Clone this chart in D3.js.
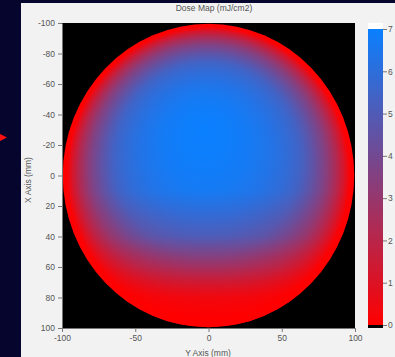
<!DOCTYPE html>
<html>
<head>
    <meta charset="utf-8">
    <title>Dose Map</title>
    <script src="https://d3js.org/d3.v7.min.js"></script>
    <style>
        body { margin: 0; background: #06052e; }
        text { font-family: 'Liberation Sans', Arial, sans-serif; fill: #555; }
    </style>
</head>
<body>
    <svg id="dose-map" width="395" height="357"></svg>

    <script>
        // axis ticks (mm)
        var xTicks = [-100, -50, 0, 50, 100];
        var yTicks = [-100, -80, -60, -40, -20, 0, 20, 40, 60, 80, 100];
        var doseTicks = [0, 1, 2, 3, 4, 5, 6, 7];

        // wafer disc (mm)
        var waferCenter = [0, 0];
        var waferRadius = 99.5;
        // hot spot of the dose field (mm)
        var hotSpot = [-3, -30];

        // radial dose profile: fraction of the way from hot spot to edge, dose (mJ/cm2)
        var profilePos  = [0,   0.15, 0.3, 0.45, 0.55, 0.64, 0.72, 0.81, 0.88, 0.93, 0.97, 1];
        var profileDose = [7,   6.9,  6.7, 6.3,  5.9,  5.4,  4.6,  3.5,  2.3,  1.2,  0.1,  0];

        // extra fall-off towards the bottom of the wafer: position (mm), red share
        var fallPos   = [10, 40, 60, 80, 100];
        var fallShare = [0, 0.15, 0.45, 0.85, 1];

        var svg = d3.select("#dose-map");
        var pLeft = 62, pRight = 355, pTop = 23, pBottom = 328;
        var plain = function(d) { return String(d); };

        // panel
        svg.append("rect").attr("x", 21).attr("y", 3).attr("width", 374).attr("height", 354).attr("fill", "#f2f2f2");
        // little red pointer on the slide
        svg.append("path").attr("d", "M0,134 L7,137.5 L0,141 Z").attr("fill", "#ff1010");

        var x = d3.scaleLinear().domain([-100, 100]).range([pLeft, pRight]);
        var y = d3.scaleLinear().domain([-100, 100]).range([pTop, pBottom]);
        var dose = d3.scaleLinear().domain([0, 7]).range([325, 29]);
        var color = d3.scaleLinear().domain([0, 7]).range(["#ff0000", "#0a80ff"]).interpolate(d3.interpolateRgb);

        var defs = svg.append("defs");

        // radial gradient of the dose profile
        var rx = x(waferRadius) - x(0), ry = y(waferRadius) - y(0);
        var radial = defs.append("radialGradient").attr("id", "doseGrad")
            .attr("cx", 0.5).attr("cy", 0.5).attr("r", 0.5)
            .attr("fx", (x(hotSpot[0]) - (x(waferCenter[0]) - rx)) / (2 * rx))
            .attr("fy", (y(hotSpot[1]) - (y(waferCenter[1]) - ry)) / (2 * ry));
        radial.selectAll("stop").data(profilePos).enter().append("stop")
            .attr("offset", function(d) { return d; })
            .attr("stop-color", function(d, i) { return color(profileDose[i]); });

        var fall = defs.append("linearGradient").attr("id", "fallGrad")
            .attr("gradientUnits", "userSpaceOnUse")
            .attr("x1", 0).attr("x2", 0).attr("y1", y(0)).attr("y2", y(100));
        fall.selectAll("stop").data(fallPos).enter().append("stop")
            .attr("offset", function(d) { return d / 100; })
            .attr("stop-color", "#ff0000")
            .attr("stop-opacity", function(d, i) { return fallShare[i]; });

        var cbGrad = defs.append("linearGradient").attr("id", "cbGrad")
            .attr("gradientUnits", "userSpaceOnUse")
            .attr("x1", 0).attr("x2", 0).attr("y1", dose(0)).attr("y2", dose(7));
        cbGrad.selectAll("stop").data(doseTicks).enter().append("stop")
            .attr("offset", function(d) { return d / 7; })
            .attr("stop-color", function(d) { return color(d); });

        defs.append("clipPath").attr("id", "plotClip").append("rect")
            .attr("x", pLeft).attr("y", pTop).attr("width", pRight - pLeft).attr("height", pBottom - pTop);

        // plot background
        svg.append("rect").attr("x", pLeft).attr("y", pTop).attr("width", pRight - pLeft).attr("height", pBottom - pTop).attr("fill", "#000");

        var g = svg.append("g").attr("clip-path", "url(#plotClip)");
        g.append("ellipse")
            .attr("cx", x(waferCenter[0])).attr("cy", y(waferCenter[1]))
            .attr("rx", rx).attr("ry", ry)
            .attr("fill", "url(#doseGrad)");
        g.append("ellipse")
            .attr("cx", x(waferCenter[0])).attr("cy", y(waferCenter[1]))
            .attr("rx", rx).attr("ry", ry)
            .attr("fill", "url(#fallGrad)");

        // axes
        var xAxis = svg.append("g").attr("transform", "translate(0," + pBottom + ")")
            .call(d3.axisBottom(x).tickValues(xTicks).tickFormat(plain).tickSize(4).tickSizeOuter(0));
        var yAxis = svg.append("g").attr("transform", "translate(" + pLeft + ",0)")
            .call(d3.axisLeft(y).tickValues(yTicks).tickFormat(plain).tickSize(4).tickSizeOuter(0));
        [xAxis, yAxis].forEach(function(a) {
            a.selectAll("path, line").attr("stroke", "#777");
            a.selectAll("text").style("font-size", "8.5px").attr("fill", "#555");
        });

        svg.append("text").attr("x", 214).attr("y", 11).attr("text-anchor", "middle")
            .style("font-size", "8.5px").text("Dose Map (mJ/cm2)");
        svg.append("text").attr("x", 208).attr("y", 356).attr("text-anchor", "middle")
            .style("font-size", "8.5px").text("Y Axis (mm)");
        svg.append("text").attr("transform", "translate(31,180) rotate(-90)").attr("text-anchor", "middle")
            .style("font-size", "8.5px").text("X Axis (mm)");

        // colour bar
        var cbX = 368, cbW = 15;
        svg.append("rect").attr("x", cbX).attr("y", 23).attr("width", cbW).attr("height", dose(7) - 23).attr("fill", "#fff");
        svg.append("rect").attr("x", cbX).attr("y", dose(7)).attr("width", cbW).attr("height", dose(0) - dose(7)).attr("fill", "url(#cbGrad)");
        svg.append("rect").attr("x", cbX).attr("y", dose(0)).attr("width", cbW).attr("height", 328 - dose(0)).attr("fill", "#000");
        var cbAxis = svg.append("g").attr("transform", "translate(" + (cbX + cbW) + ",0)")
            .call(d3.axisRight(dose).tickValues(doseTicks).tickFormat(plain).tickSize(4).tickSizeOuter(0));
        cbAxis.select(".domain").remove();
        cbAxis.selectAll("line").attr("stroke", "#777");
        cbAxis.selectAll("text").style("font-size", "8.5px").attr("fill", "#555").attr("x", 5);
    </script>
</body>
</html>
